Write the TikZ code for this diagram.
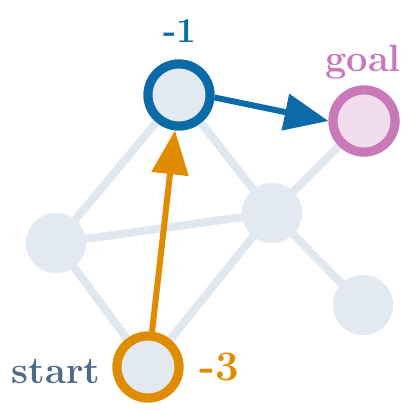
\documentclass[tikz,border=0pt]{standalone}
\usepackage{fontspec}
\setmainfont{Latin Modern Roman}
\usetikzlibrary{arrows.meta}
\definecolor{edgegray}{HTML}{E0E7EE}
\definecolor{nodefill}{HTML}{E2E9F0}
\definecolor{myblue}{HTML}{0B6AA8}
\definecolor{myorange}{HTML}{E08C00}
\definecolor{mypink}{HTML}{C978B8}
\definecolor{goalfill}{HTML}{F2DDEE}
\definecolor{slate}{HTML}{4D6A8A}
\tikzset{
  graynode/.style={circle, fill=nodefill, minimum size=60pt, inner sep=0pt, outer sep=0pt},
  ringnode/.style={circle, fill=nodefill, line width=9pt, minimum size=62pt, inner sep=0pt},
  gedge/.style={draw=edgegray, line width=8pt},
  lbl/.style={font=\fontsize{38}{40}\selectfont\bfseries, anchor=base, inner sep=0pt},
  parrow/.style={line width=6pt, -{Triangle[length=44pt,width=36pt]}}
}
\begin{document}
\begin{tikzpicture}[x=1pt,y=-1pt]
\useasboundingbox (0,0) rectangle (411,411);
\node[graynode] (B) at (272,213) {};
\node[graynode] (C) at (56,243) {};
\node[graynode] (D) at (363,305) {};
\node[ringnode, draw=myblue] (A) at (179,95) {};
\node[ringnode, draw=mypink, fill=goalfill] (G) at (364,121) {};
\node[ringnode, draw=myorange] (S) at (148,367) {};
\draw[gedge] (A) -- (C);
\draw[gedge] (A) -- (B);
\draw[gedge] (C) -- (B);
\draw[gedge] (C) -- (S);
\draw[gedge] (S) -- (B);
\draw[gedge] (B) -- (G);
\draw[gedge] (B) -- (D);
\node[graynode] at (B) {};
\node[graynode] at (C) {};
\node[graynode] at (D) {};
\node[ringnode, draw=myblue] at (A) {};
\node[ringnode, draw=mypink, fill=goalfill] at (G) {};
\node[ringnode, draw=myorange] at (S) {};
\draw[parrow, myorange] (S) -- (A);
\draw[parrow, myblue] (A.-4) -- (G.180);
\node[lbl, text=myblue, font=\fontsize{35}{37}\selectfont\bfseries] (l1) at (180,43) {-1};
\node[lbl, text=mypink] (lg) at (363,72) {goal};
\node[lbl, text=slate] (ls) at (56,383) {start};
\node[lbl, text=myorange, font=\fontsize{42}{44}\selectfont\bfseries] (l3) at (219,380) {-3};
\end{tikzpicture}
\end{document}
